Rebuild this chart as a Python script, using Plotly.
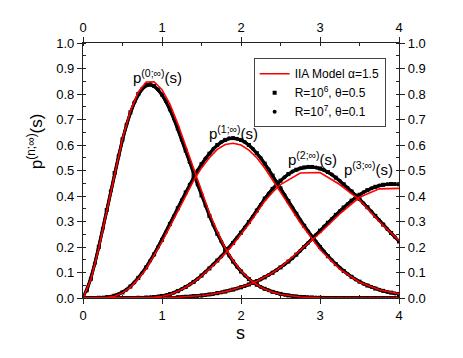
import plotly.graph_objects as go

# IIA model curves (red)
s_model = [0.0, 0.1, 0.2, 0.3, 0.4, 0.5, 0.6, 0.7, 0.8, 0.9, 1.0, 1.1, 1.2, 1.3, 1.4,
           1.5, 1.6, 1.7, 1.8, 1.9, 2.0, 2.1, 2.2, 2.3, 2.4, 2.5, 2.75, 3.0, 3.25, 3.5,
           3.75, 4.0]
model_p0 = [0, 0.072, 0.196, 0.342, 0.490, 0.625, 0.733, 0.808, 0.847, 0.848, 0.817,
            0.760, 0.683, 0.596, 0.504, 0.415, 0.333, 0.260, 0.197, 0.146, 0.106, 0.075,
            0.052, 0.035, 0.023, 0.015, 0.004, 0.001, 0, 0, 0, 0]
model_p1 = [0, 0, 0, 0.002, 0.007, 0.020, 0.042, 0.075, 0.115, 0.165, 0.220, 0.280,
            0.340, 0.400, 0.460, 0.510, 0.550, 0.583, 0.602, 0.607, 0.600, 0.580, 0.550,
            0.510, 0.465, 0.415, 0.295, 0.190, 0.113, 0.062, 0.032, 0.016]
model_p2 = [0, 0, 0, 0, 0, 0, 0, 0.0005, 0.001, 0.003, 0.007, 0.014, 0.026, 0.042,
            0.062, 0.086, 0.113, 0.143, 0.175, 0.210, 0.250, 0.290, 0.335, 0.380, 0.415,
            0.445, 0.490, 0.492, 0.445, 0.385, 0.300, 0.225]
model_p3 = [0, 0, 0, 0, 0, 0, 0, 0, 0, 0, 0.001, 0.002, 0.003, 0.005, 0.007, 0.010,
            0.014, 0.019, 0.025, 0.033, 0.042, 0.053, 0.066, 0.081, 0.099, 0.120, 0.188,
            0.255, 0.330, 0.395, 0.428, 0.430]

# data R=10^6, theta=0.5
s_a = [round(0.1 * i, 2) for i in range(41)]
a_p0 = [0, 0.075, 0.200, 0.345, 0.490, 0.622, 0.728, 0.800, 0.835, 0.832, 0.798, 0.740,
        0.664, 0.578, 0.488, 0.402, 0.322, 0.252, 0.192, 0.143, 0.104, 0.074, 0.052,
        0.036, 0.024, 0.016, 0.010, 0.006, 0.004, 0.002, 0.001, 0, 0, 0, 0, 0, 0, 0,
        0, 0, 0]
a_p1 = [0, 0, 0.001, 0.003, 0.009, 0.022, 0.045, 0.079, 0.120, 0.171, 0.228, 0.290,
        0.352, 0.414, 0.473, 0.525, 0.566, 0.600, 0.620, 0.627, 0.620, 0.600, 0.568,
        0.527, 0.480, 0.430, 0.380, 0.330, 0.283, 0.240, 0.200, 0.164, 0.133, 0.106,
        0.083, 0.064, 0.049, 0.037, 0.028, 0.021, 0.016]
a_p2 = [0, 0, 0, 0, 0, 0, 0, 0.001, 0.002, 0.004, 0.008, 0.015, 0.027, 0.043, 0.063,
        0.088, 0.116, 0.147, 0.180, 0.216, 0.256, 0.298, 0.343, 0.390, 0.428, 0.460,
        0.486, 0.503, 0.512, 0.514, 0.508, 0.494, 0.472, 0.446, 0.418, 0.388, 0.356,
        0.322, 0.288, 0.255, 0.222]
a_p3 = [0, 0, 0, 0, 0, 0, 0, 0, 0, 0, 0, 0, 0.003, 0.005, 0.007, 0.010, 0.014, 0.019,
        0.025, 0.033, 0.042, 0.053, 0.066, 0.081, 0.099, 0.120, 0.143, 0.170, 0.200,
        0.232, 0.264, 0.295, 0.326, 0.355, 0.382, 0.405, 0.423, 0.436, 0.444, 0.447,
        0.446]

# data R=10^7, theta=0.1
s_b = [round(0.05 + 0.1 * i, 2) for i in range(40)]
b_p0 = [0.028, 0.135, 0.272, 0.420, 0.558, 0.680, 0.768, 0.822, 0.840, 0.818, 0.772,
        0.703, 0.620, 0.532, 0.444, 0.362, 0.286, 0.222, 0.166, 0.122, 0.088, 0.062,
        0.043, 0.030, 0.020, 0.013, 0.008, 0.005, 0.003, 0.002, 0.001, 0, 0, 0, 0, 0,
        0, 0, 0, 0]
b_p1 = [0, 0, 0.002, 0.005, 0.015, 0.032, 0.061, 0.099, 0.146, 0.200, 0.259, 0.322,
        0.384, 0.445, 0.500, 0.547, 0.585, 0.612, 0.626, 0.625, 0.612, 0.585, 0.549,
        0.505, 0.455, 0.405, 0.355, 0.306, 0.262, 0.220, 0.182, 0.148, 0.119, 0.094,
        0.073, 0.056, 0.043, 0.032, 0.024, 0.018]
b_p2 = [0, 0, 0, 0, 0, 0, 0, 0.001, 0.003, 0.006, 0.011, 0.021, 0.035, 0.053, 0.075,
        0.102, 0.131, 0.163, 0.198, 0.236, 0.277, 0.320, 0.366, 0.410, 0.445, 0.474,
        0.496, 0.509, 0.515, 0.512, 0.502, 0.484, 0.460, 0.432, 0.403, 0.372, 0.339,
        0.305, 0.271, 0.238]
b_p3 = [0, 0, 0, 0, 0, 0, 0, 0, 0, 0, 0, 0, 0.004, 0.006, 0.008, 0.012, 0.016, 0.022,
        0.029, 0.037, 0.047, 0.059, 0.073, 0.090, 0.109, 0.131, 0.156, 0.185, 0.216,
        0.248, 0.280, 0.311, 0.341, 0.369, 0.394, 0.415, 0.430, 0.441, 0.446, 0.447]

curve_labels = ["p<sup>(0;∞)</sup>(s)", "p<sup>(1;∞)</sup>(s)",
                "p<sup>(2;∞)</sup>(s)", "p<sup>(3;∞)</sup>(s)"]
label_x = [0.94, 1.90, 2.90, 3.62]
label_y = [0.868, 0.650, 0.549, 0.506]

FONT = "Arial, Liberation Sans, sans-serif"

fig = go.Figure()

datasets = [
    ("R=10<sup>6</sup>, θ=0.5", s_a, [a_p0, a_p1, a_p2, a_p3], "square", 2),
    ("R=10<sup>7</sup>, θ=0.1", s_b, [b_p0, b_p1, b_p2, b_p3], "circle", 3),
]
for name, xs, curves, symbol, rank in datasets:
    for i, ys in enumerate(curves):
        # thick band like the dense scatter in the original
        fig.add_trace(go.Scatter(x=xs, y=ys, mode="lines",
                                 line=dict(color="black", width=3),
                                 showlegend=False, hoverinfo="skip"))
        fig.add_trace(go.Scatter(x=xs, y=ys, mode="markers", name=name,
                                 marker=dict(color="black", size=4, symbol=symbol),
                                 legendgroup=name, showlegend=(i == 0),
                                 legendrank=rank))

for i, ys in enumerate([model_p0, model_p1, model_p2, model_p3]):
    fig.add_trace(go.Scatter(x=s_model, y=ys, mode="lines", name="IIA Model α=1.5",
                             line=dict(color="red", width=1.6),
                             legendgroup="model", showlegend=(i == 0), legendrank=1))

# empty trace so the mirrored top/right axes get drawn
fig.add_trace(go.Scatter(x=[], y=[], xaxis="x2", yaxis="y2", showlegend=False))

for txt, x, y in zip(curve_labels, label_x, label_y):
    fig.add_annotation(x=x, y=y, text=txt, showarrow=False,
                       font=dict(family=FONT, size=15, color="black"))

fig.add_annotation(xref="paper", yref="paper", x=-0.193, y=0.615,
                   text="p<sup>(n;∞)</sup>(s)", textangle=-90, showarrow=False,
                   font=dict(family=FONT, size=17, color="black"))
fig.add_annotation(xref="paper", yref="paper", x=0.497, y=-0.183, text="s",
                   showarrow=False, font=dict(family=FONT, size=18, color="black"))

x_common = dict(range=[0, 4], dtick=1, ticks="outside", ticklen=5, tickwidth=1,
                tickcolor="#222", showline=True, linecolor="#222", linewidth=1.2,
                showgrid=False, zeroline=False,
                minor=dict(dtick=0.5, ticks="inside", ticklen=3, tickcolor="#222"),
                tickfont=dict(family=FONT, size=13, color="black"))
y_common = dict(range=[0, 1], dtick=0.1, tickformat=".1f", ticks="outside", ticklen=5,
                tickwidth=1, tickcolor="#222", showline=True, linecolor="#222",
                linewidth=1.2, showgrid=False, zeroline=False,
                minor=dict(dtick=0.05, ticks="inside", ticklen=3, tickcolor="#222"),
                tickfont=dict(family=FONT, size=13, color="black"))

# page body has an 8px margin, so the figure sits 8px in from the window edge
fig.update_layout(
    width=455, height=350,
    margin=dict(l=75, r=64, t=33, b=60),
    plot_bgcolor="white", paper_bgcolor="white",
    xaxis=dict(**x_common),
    xaxis2=dict(**x_common, overlaying="x", side="top", anchor="y"),
    yaxis=dict(**y_common),
    yaxis2=dict(**y_common, overlaying="y", side="right", anchor="x"),
    legend=dict(x=0.54, y=0.94, xanchor="left", yanchor="top",
                bgcolor="white", bordercolor="#444", borderwidth=1,
                font=dict(family=FONT, size=12, color="black"),
                tracegroupgap=0, itemwidth=30),
    showlegend=True,
)

fig.write_html("out.html")
